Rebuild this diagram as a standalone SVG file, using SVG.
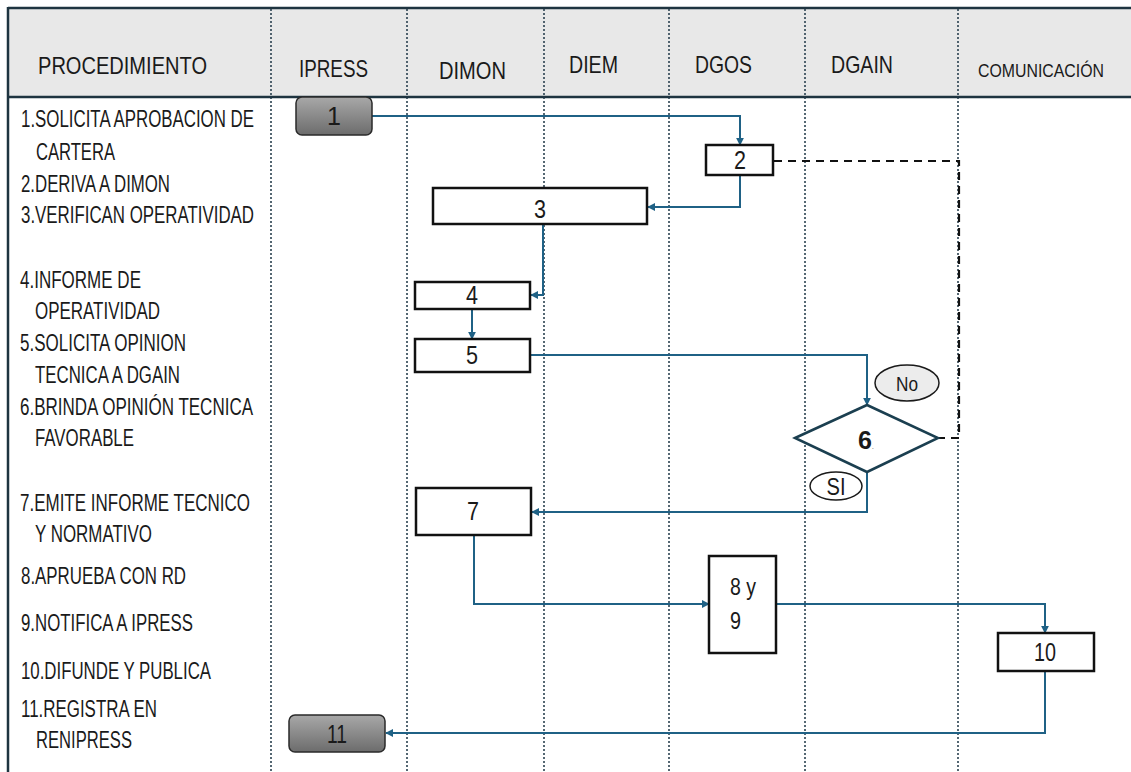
<svg xmlns="http://www.w3.org/2000/svg" width="1131" height="772" viewBox="0 0 1131 772">
<defs>
  <linearGradient id="gray" x1="0" y1="0" x2="0" y2="1">
    <stop offset="0" stop-color="#a8a8a8"/>
    <stop offset="1" stop-color="#6c6c6c"/>
  </linearGradient>
  <marker id="arr" viewBox="0 0 10 10" refX="9" refY="5" markerWidth="8" markerHeight="8" markerUnits="userSpaceOnUse" orient="auto">
    <path d="M0,0 L10,5 L0,10 z" fill="#1f6185"/>
  </marker>
  <style>
    text { font-family: "Liberation Sans Narrow", "Liberation Sans", Arial, sans-serif; fill: #1a1a1a; }
    .hd { font-size: 24px; }
    .hs { font-size: 18px; }
    .lt { font-size: 23px; }
    .num { font-size: 25px; text-anchor: middle; }
    .box { fill: #ffffff; stroke: #111111; stroke-width: 2.5; }
    .gbox { fill: url(#gray); stroke: #2a2a2a; stroke-width: 1.5; }
    .lane { stroke: #1e3646; stroke-width: 1.5; stroke-dasharray: 2 2; fill: none; }
    .con { stroke: #1f6185; stroke-width: 2; fill: none; marker-end: url(#arr); }
    .dash { stroke: #111111; stroke-width: 2.2; stroke-dasharray: 8 6; fill: none; }
  </style>
</defs>
<rect width="1131" height="772" fill="#ffffff"/>

<g id="frame">
  <rect x="8" y="8" width="1130" height="89" fill="#e8e8e8"/>
  <line x1="8" y1="8" x2="1131" y2="8" stroke="#1e3440" stroke-width="2.5"/>
  <line x1="8" y1="97" x2="1131" y2="97" stroke="#1e3440" stroke-width="2.5"/>
  <line x1="8" y1="7" x2="8" y2="772" stroke="#1e3440" stroke-width="2.5"/>
</g>

<g id="lanes">
  <line class="lane" x1="271" y1="9" x2="271" y2="772"/>
  <line class="lane" x1="407" y1="9" x2="407" y2="772"/>
  <line class="lane" x1="544" y1="9" x2="544" y2="772"/>
  <line class="lane" x1="669" y1="9" x2="669" y2="772"/>
  <line class="lane" x1="805" y1="9" x2="805" y2="772"/>
  <line class="lane" x1="958" y1="9" x2="958" y2="772"/>
</g>

<g id="headers">
  <text class="hd" x="38" y="74" textLength="169" lengthAdjust="spacingAndGlyphs">PROCEDIMIENTO</text>
  <text class="hd" x="299" y="77" textLength="69" lengthAdjust="spacingAndGlyphs">IPRESS</text>
  <text class="hd" x="439" y="79" textLength="67" lengthAdjust="spacingAndGlyphs">DIMON</text>
  <text class="hd" x="569" y="73" textLength="49" lengthAdjust="spacingAndGlyphs">DIEM</text>
  <text class="hd" x="695" y="73" textLength="57" lengthAdjust="spacingAndGlyphs">DGOS</text>
  <text class="hd" x="831" y="73" textLength="62" lengthAdjust="spacingAndGlyphs">DGAIN</text>
  <text class="hs" x="978" y="77" textLength="126" lengthAdjust="spacingAndGlyphs">COMUNICACIÓN</text>
</g>

<g id="procedure">
  <text class="lt" x="21" y="127" textLength="233" lengthAdjust="spacingAndGlyphs">1.SOLICITA APROBACION DE</text>
  <text class="lt" x="36" y="160" textLength="79" lengthAdjust="spacingAndGlyphs">CARTERA</text>
  <text class="lt" x="21" y="192" textLength="149" lengthAdjust="spacingAndGlyphs">2.DERIVA A DIMON</text>
  <text class="lt" x="21" y="223" textLength="233" lengthAdjust="spacingAndGlyphs">3.VERIFICAN OPERATIVIDAD</text>
  <text class="lt" x="20" y="288" textLength="121" lengthAdjust="spacingAndGlyphs">4.INFORME DE</text>
  <text class="lt" x="35" y="319" textLength="125" lengthAdjust="spacingAndGlyphs">OPERATIVIDAD</text>
  <text class="lt" x="20" y="351" textLength="166" lengthAdjust="spacingAndGlyphs">5.SOLICITA OPINION</text>
  <text class="lt" x="35" y="383" textLength="145" lengthAdjust="spacingAndGlyphs">TECNICA A DGAIN</text>
  <text class="lt" x="20" y="415" textLength="233" lengthAdjust="spacingAndGlyphs">6.BRINDA OPINIÓN TECNICA</text>
  <text class="lt" x="35" y="446" textLength="99" lengthAdjust="spacingAndGlyphs">FAVORABLE</text>
  <text class="lt" x="20" y="511" textLength="230" lengthAdjust="spacingAndGlyphs">7.EMITE INFORME TECNICO</text>
  <text class="lt" x="35" y="542" textLength="117" lengthAdjust="spacingAndGlyphs">Y NORMATIVO</text>
  <text class="lt" x="21" y="584" textLength="165" lengthAdjust="spacingAndGlyphs">8.APRUEBA CON RD</text>
  <text class="lt" x="21" y="631" textLength="172" lengthAdjust="spacingAndGlyphs">9.NOTIFICA A IPRESS</text>
  <text class="lt" x="21" y="679" textLength="190" lengthAdjust="spacingAndGlyphs">10.DIFUNDE Y PUBLICA</text>
  <text class="lt" x="21" y="717" textLength="136" lengthAdjust="spacingAndGlyphs">11.REGISTRA EN</text>
  <text class="lt" x="36" y="748" textLength="96" lengthAdjust="spacingAndGlyphs">RENIPRESS</text>
</g>

<g id="connectors">
  <path class="con" d="M372,116 H740 V145"/>
  <path class="con" d="M740,175 V207 H648"/>
  <path class="con" d="M543,224 V295 H531"/>
  <path class="con" d="M472,309 V339"/>
  <path class="con" d="M530,355 H867 V405"/>
  <path class="con" d="M867,472 V512 H532"/>
  <path class="con" d="M474,535 V604 H709"/>
  <path class="con" d="M777,604 H1045 V633"/>
  <path class="con" d="M1045,671 V733 H386"/>
  <path class="dash" d="M774,161 H959 V438 H938"/>
</g>

<g id="node-1">
  <rect class="gbox" x="296" y="97" width="76" height="38" rx="6"/>
  <text class="num" x="334" y="125">1</text>
</g>
<g id="node-2">
  <rect class="box" x="706" y="145" width="67" height="30"/>
  <text class="num" x="740" y="169" textLength="12" lengthAdjust="spacingAndGlyphs">2</text>
</g>
<g id="node-3">
  <rect class="box" x="433" y="188" width="214" height="36"/>
  <text class="num" x="540" y="218" textLength="12" lengthAdjust="spacingAndGlyphs">3</text>
</g>
<g id="node-4">
  <rect class="box" x="415" y="282" width="115" height="27"/>
  <text class="num" x="472" y="304" textLength="12" lengthAdjust="spacingAndGlyphs">4</text>
</g>
<g id="node-5">
  <rect class="box" x="415" y="339" width="115" height="33"/>
  <text class="num" x="472" y="364" textLength="12" lengthAdjust="spacingAndGlyphs">5</text>
</g>
<g id="node-6">
  <polygon points="795,438 867,405 938,438 867,472" fill="#ffffff" stroke="#1b3f50" stroke-width="2.5"/>
  <text x="866" y="449" font-size="25" font-weight="bold" text-anchor="middle">6<tspan font-size="8" font-weight="normal" fill="#666">.</tspan></text>
</g>
<g id="node-no">
  <ellipse cx="907" cy="383" rx="32" ry="18" fill="#ececec" stroke="#1a1a1a" stroke-width="1.5"/>
  <text x="907" y="391" font-size="21" text-anchor="middle" textLength="22" lengthAdjust="spacingAndGlyphs">No</text>
</g>
<g id="node-si">
  <ellipse cx="836" cy="486" rx="26" ry="14" fill="#ffffff" stroke="#1a1a1a" stroke-width="1.5"/>
  <text x="836" y="495" font-size="23" text-anchor="middle" textLength="19" lengthAdjust="spacingAndGlyphs">SI</text>
</g>
<g id="node-7">
  <rect class="box" x="416" y="488" width="115" height="47"/>
  <text class="num" x="473" y="520" textLength="12" lengthAdjust="spacingAndGlyphs">7</text>
</g>
<g id="node-8y9">
  <rect class="box" x="709" y="556" width="67" height="97"/>
  <text x="730" y="595" font-size="24" textLength="26" lengthAdjust="spacingAndGlyphs">8 y</text>
  <text x="730" y="629" font-size="24" textLength="11" lengthAdjust="spacingAndGlyphs">9</text>
</g>
<g id="node-10">
  <rect class="box" x="998" y="633" width="96" height="38"/>
  <text class="num" x="1045" y="661" textLength="22" lengthAdjust="spacingAndGlyphs">10</text>
</g>
<g id="node-11">
  <rect class="gbox" x="289" y="715" width="96" height="37" rx="6"/>
  <text class="num" x="337" y="743" textLength="20" lengthAdjust="spacingAndGlyphs">11</text>
</g>
</svg>
